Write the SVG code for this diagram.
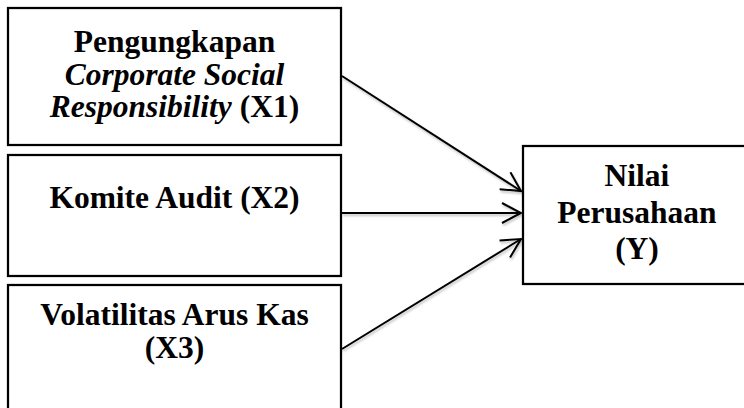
<svg xmlns="http://www.w3.org/2000/svg" width="744" height="408" viewBox="0 0 744 408">
<style>
.box{fill:#fff;stroke:#000;stroke-width:2.25}
.t{font-family:"Liberation Serif","Times New Roman",serif;font-size:31.5px;font-weight:bold;text-anchor:middle;fill:#000}
.i{font-style:italic}
.conn{stroke:#000;stroke-width:2;fill:none;marker-end:url(#arr);filter:url(#sh)}
</style>
<defs>
<marker id="arr" viewBox="0 0 22 22" refX="20" refY="11" markerWidth="22" markerHeight="22" markerUnits="userSpaceOnUse" orient="auto">
<path d="M1,1 L20,11 L1,21" fill="none" stroke="#000" stroke-width="2"/>
</marker>
<filter id="sh" filterUnits="userSpaceOnUse" x="0" y="0" width="744" height="408">
<feDropShadow dx="1" dy="2" stdDeviation="1.2" flood-color="#000" flood-opacity="0.25"/>
</filter>
</defs>
<rect width="744" height="408" fill="#fff"/>
<g id="connectors">
<line class="conn" x1="342" y1="76" x2="521" y2="191"/>
<line class="conn" x1="342" y1="213" x2="521" y2="213"/>
<line class="conn" x1="342" y1="349" x2="521" y2="239"/>
</g>
<g id="x1">
<rect class="box" x="8" y="8" width="333" height="137"/>
<text class="t" x="174.5" y="52">Pengungkapan</text>
<text class="t i" x="174.5" y="84.5">Corporate Social</text>
<text class="t" x="174.5" y="117"><tspan class="i">Responsibility</tspan> (X1)</text>
</g>
<g id="x2">
<rect class="box" x="8" y="155" width="333" height="121"/>
<text class="t" x="174.5" y="208">Komite Audit (X2)</text>
</g>
<g id="x3">
<rect class="box" x="8" y="285" width="333" height="130"/>
<text class="t" x="174.5" y="325">Volatilitas Arus Kas</text>
<text class="t" x="174.5" y="358">(X3)</text>
</g>
<g id="y">
<rect class="box" x="523" y="146" width="230" height="138"/>
<text class="t" x="637" y="186">Nilai</text>
<text class="t" x="637" y="222.5">Perusahaan</text>
<text class="t" x="637" y="259">(Y)</text>
</g>
</svg>
